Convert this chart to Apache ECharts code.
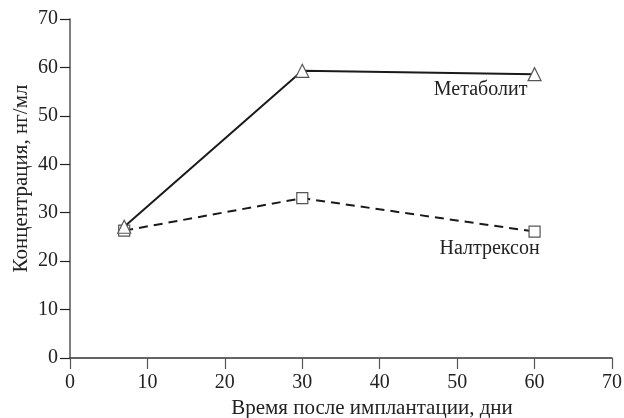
<!DOCTYPE html>
<html>
<head>
<meta charset="utf-8">
<script src="https://cdn.jsdelivr.net/npm/echarts@6/dist/echarts.min.js"></script>
<style>
html, body { margin: 0; padding: 0; background: #fff; }
#main { width: 624px; height: 418px; }
</style>
</head>
<body>
<div id="main"></div>
<script>
var days = [7, 30, 60];
var metabolite = [27.1, 59.3, 58.6];
var naltrexone = [26.3, 33.0, 26.1];

var myChart = echarts.init(document.getElementById('main'));
var font = '"Liberation Serif", "DejaVu Serif", serif';

function pairs(xs, ys) {
    return xs.map(function (x, i) { return [x, ys[i]]; });
}

// series names sit under the last point
var metData = pairs(days, metabolite);
metData[2] = {
    value: metData[2],
    label: {
        show: true, formatter: 'Метаболит', position: 'inside',
        offset: [-54, 16], fontFamily: font, fontSize: 20, color: '#222'
    }
};
var nalData = pairs(days, naltrexone);
nalData[2] = {
    value: nalData[2],
    label: {
        show: true, formatter: 'Налтрексон', position: 'inside',
        offset: [-45, 17], fontFamily: font, fontSize: 20, color: '#222'
    }
};

var option = {
    animation: false,
    grid: { left: 70, right: 12, top: 19, bottom: 60, containLabel: false, outerBoundsMode: 'none' },
    xAxis: {
        type: 'value', min: 0, max: 70, interval: 10,
        name: 'Время после имплантации, дни',
        nameLocation: 'middle', nameGap: 40, nameMoveOverlap: false,
        nameTextStyle: { fontFamily: font, fontSize: 21, color: '#222', padding: [0, 0, 0, 62] },
        axisLine: { lineStyle: { color: '#333', width: 1.5 } },
        axisTick: { length: 11, lineStyle: { color: '#555', width: 1.2 } },
        axisLabel: { fontFamily: font, fontSize: 20, color: '#222', margin: 15 },
        splitLine: { show: false }
    },
    yAxis: {
        type: 'value', min: 0, max: 70, interval: 10,
        name: 'Концентрация, нг/мл',
        nameLocation: 'middle', nameGap: 38, nameMoveOverlap: false,
        nameTextStyle: { fontFamily: font, fontSize: 21, color: '#222', padding: [0, 0, 0, 20] },
        axisLine: { show: true, lineStyle: { color: '#555', width: 1.5 } },
        axisTick: { show: true, length: 10, lineStyle: { color: '#222', width: 1.2 } },
        axisLabel: { fontFamily: font, fontSize: 20, color: '#222', margin: 12 },
        splitLine: { show: false }
    },
    series: [
        {
            name: 'Метаболит', type: 'line', data: metData,
            symbol: 'triangle', symbolSize: 13,
            itemStyle: { color: '#fff', borderColor: '#555', borderWidth: 1.2 },
            lineStyle: { color: '#1a1a1a', width: 2 },
            z: 3
        },
        {
            name: 'Налтрексон', type: 'line', data: nalData,
            symbol: 'rect', symbolSize: 11,
            itemStyle: { color: '#fff', borderColor: '#555', borderWidth: 1.2 },
            lineStyle: { color: '#1a1a1a', width: 2, type: [9, 6] },
            z: 2
        }
    ]
};
myChart.setOption(option);
</script>
</body>
</html>
